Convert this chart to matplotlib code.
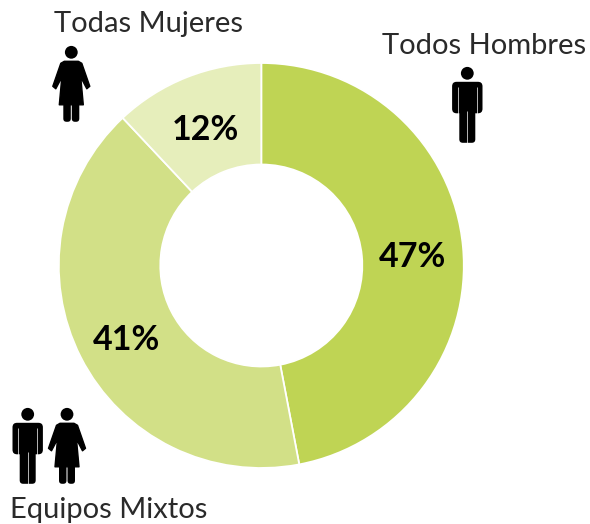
import matplotlib
matplotlib.use("Agg")
import matplotlib.pyplot as plt
from matplotlib.patches import Circle, Polygon, FancyBboxPatch

categories = ["Todos Hombres", "Equipos Mixtos", "Todas Mujeres"]
values = [47, 41, 12]
colors = ["#BFD454", "#D2E087", "#E6EEBB"]

W, H = 590, 524
fig = plt.figure(figsize=(W / 100, H / 100), dpi=100, facecolor="white")
ax = fig.add_axes([0, 0, 1, 1])
ax.set_xlim(0, W)
ax.set_ylim(0, H)
ax.axis("off")


def Y(y):
    return H - y


CX, CY, R = 261.3, 265.5, 202.5
ax.pie(values, colors=colors, startangle=90, counterclock=False,
       center=(CX, Y(CY)), radius=R, frame=True,
       wedgeprops=dict(width=R - 101, edgecolor="white", linewidth=1.3))
ax.set_xlim(0, W)
ax.set_ylim(0, H)
ax.set_aspect("equal")
ax.axis("off")

pct_pos = [(412, 257), (126, 340), (205, 130)]
for v, (x, y) in zip(values, pct_pos):
    ax.text(x, Y(y), f"{v}%", ha="center", va="center", fontsize=24.5,
            fontweight="bold", family="Lato", color="black")

label_pos = [(484.5, 46), (109, 510), (149, 24)]
for c, (x, y) in zip(categories, label_pos):
    ax.text(x, Y(y), c, ha="center", va="center", fontsize=21,
            family="Lato", fontweight="regular", color="#2a2a2a")


def rr(x0, y0, x1, y1, r=2.0):
    ax.add_patch(FancyBboxPatch((x0, Y(y1)), x1 - x0, y1 - y0,
                                boxstyle=f"round,pad=0,rounding_size={r}",
                                fc="black", ec="none"))


def man(cx, cy):
    ax.add_patch(Circle((cx, Y(cy)), 6.4, fc="black", ec="none"))
    rr(cx - 15.2, cy + 8.5, cx + 15.2, cy + 40, 4.5)      # shoulders + arms
    rr(cx - 8, cy + 25, cx + 8, cy + 69.5, 3.5)           # legs
    for s in (-1, 1):                                     # arm gaps
        ax.plot([cx + s * 9.5] * 2, [Y(cy + 14), Y(cy + 40.5)],
                color="white", lw=0.5, solid_capstyle="butt")
    ax.plot([cx, cx], [Y(cy + 38), Y(cy + 70)], color="white", lw=0.5,
            solid_capstyle="butt")


def woman(cx, cy):
    ax.add_patch(Circle((cx, Y(cy)), 6.4, fc="black", ec="none"))
    pts = [(-7, 9), (7, 9), (10.5, 11), (18.5, 34), (15.5, 36.5), (9.5, 25),
           (12, 52.5), (-12, 52.5), (-9.5, 25), (-15.5, 36.5), (-18.5, 34), (-10.5, 11)]
    ax.add_patch(Polygon([(cx + dx, Y(cy + dy)) for dx, dy in pts],
                         closed=True, fc="black", ec="black", lw=1, joinstyle="round"))
    rr(cx - 8, cy + 50, cx - 0.5, cy + 69.5, 3.2)
    rr(cx + 0.5, cy + 50, cx + 8, cy + 69.5, 3.2)


man(467.3, 73.3)
woman(71.3, 52.3)
man(27.7, 414.3)
woman(67, 414.3)

fig.savefig("out.png", dpi=100)
